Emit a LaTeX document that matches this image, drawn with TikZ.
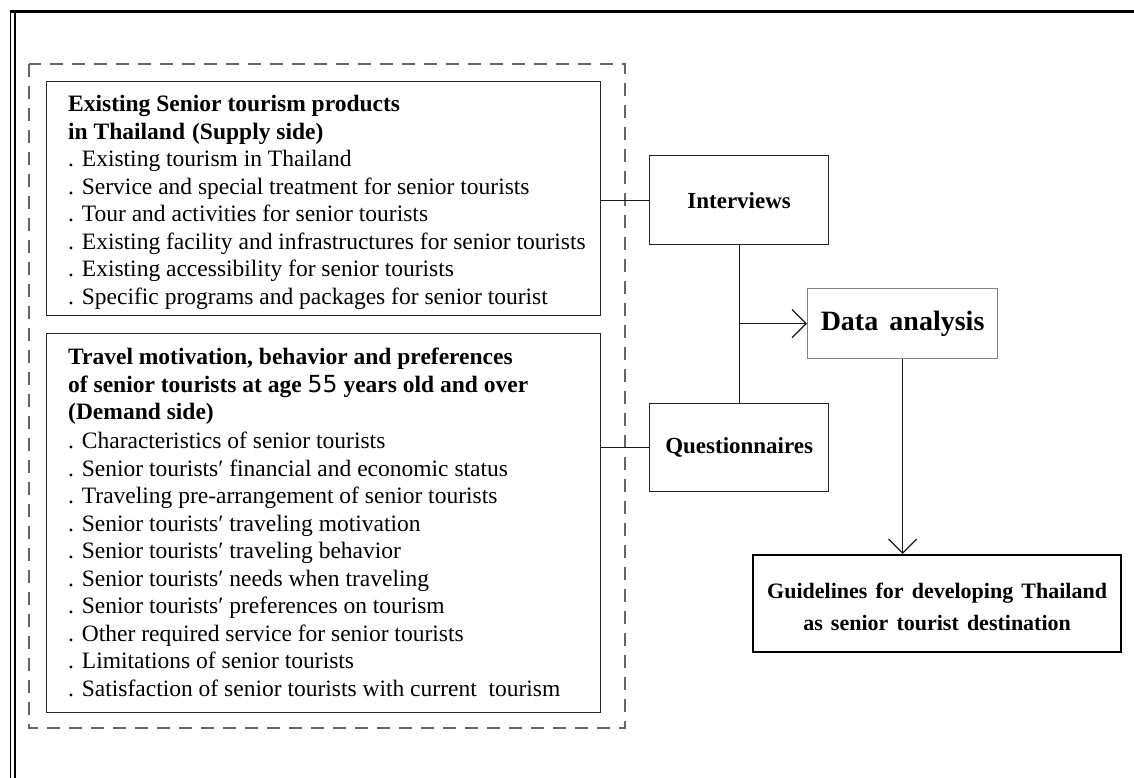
\documentclass[tikz,border=0pt]{standalone}
\usepackage{fontspec}
\setmainfont{Liberation Serif}
\newfontfamily\numfont{DejaVu Sans}
\usetikzlibrary{arrows.meta}
\tikzset{
  boxa/.style={draw=black!85, line width=1.3pt, inner sep=0pt, anchor=north west},
  boxd/.style={draw=black!50, line width=1.2pt, inner sep=0pt, anchor=north west},
  boxg/.style={draw=black, line width=2.2pt, inner sep=0pt, anchor=north west},
  txt/.style={anchor=north west, inner sep=0pt, align=left, font=\fontsize{23.5}{27.5}\selectfont},
  lbl/.style={font=\bfseries\fontsize{23}{27}\selectfont},
  conn/.style={draw=black!90, line width=1.3pt},
  arr/.style={conn, -{Straight Barb[length=14pt,width=28pt,line width=1.3pt]}},
}
\begin{document}
\begin{tikzpicture}[x=1pt,y=-1pt]
\useasboundingbox (0,0) rectangle (1134,778);
% outer frame
\draw[line width=3pt] (9.5,12) -- (1134,12);
\draw[line width=1.6pt] (10.5,12) -- (10.5,778);
\draw[line width=1.6pt] (14.8,12) -- (14.8,778);
% dashed group
\draw[draw=black!60, line width=1.3pt, dash pattern=on 13pt off 9pt] (29,64) rectangle (625,728);
% supply box
\node[boxa, minimum width=554pt, minimum height=234pt] (supply) at (46,81) {};
\node[txt] (supplytxt) at (68,95) {\textbf{Existing Senior tourism products}\\
\textbf{in Thailand\hspace{0.3em}(Supply side)}\\
. Existing tourism in Thailand\\
. Service and special treatment for senior tourists\\
. Tour and activities for senior tourists\\
. Existing facility and infrastructures for senior tourists\\
. Existing accessibility for senior tourists\\
. Specific programs and packages for senior tourist};
% demand box
\node[boxa, minimum width=554pt, minimum height=379pt] (demand) at (46,333) {};
\node[txt] (demandtxt) at (68,348) {\textbf{Travel motivation, behavior and preferences}\\
\textbf{of senior tourists at age {\numfont\mdseries 55} years old and over}\\
\textbf{(Demand side)}\\[1.5pt]
. Characteristics of senior tourists\\
. Senior tourists′ financial and economic status\\
. Traveling pre-arrangement of senior tourists\\
. Senior tourists′ traveling motivation\\
. Senior tourists′ traveling behavior\\
. Senior tourists′ needs when traveling\\
. Senior tourists′ preferences on tourism\\
. Other required service for senior tourists\\
. Limitations of senior tourists\\
. Satisfaction of senior tourists with current\ \ tourism};
% right column
\node[boxa, minimum width=179pt, minimum height=89pt] (interviews) at (649,155) {};
\node[lbl] (interviewstxt) at (interviews.center) {Interviews};
\node[boxa, minimum width=179pt, minimum height=88pt] (questionnaires) at (649,403) {};
\node[lbl] (questionnairestxt) at (questionnaires.center) {Questionnaires};
\node[boxd, minimum width=190pt, minimum height=70pt] (data) at (807,288) {};
\node[lbl, font=\bfseries\fontsize{28}{32}\selectfont] (datatxt) at (data.center) {Data\hspace{0.15em} analysis};
\node[boxg, minimum width=368pt, minimum height=97pt] (guide) at (752,554) {};
\node[lbl, align=center, font=\bfseries\fontsize{22}{32}\selectfont] (guidetxt) at ([yshift=-3pt]guide.center) {Guidelines\hspace{0.12em} for\hspace{0.12em} developing\hspace{0.12em} Thailand\\as\hspace{0.12em} senior\hspace{0.12em} tourist\hspace{0.12em} destination};
% connectors
\draw[conn] (supply.east |- interviews.west) -- (interviews.west);
\draw[conn] (demand.east |- questionnaires.west) -- (questionnaires.west);
\draw[conn] (interviews.south) -- (questionnaires.north);
\coordinate (junction) at (interviews.south |- data.west);
\draw[arr] (junction) -- (data.west);
\draw[arr] (data.south) -- (data.south |- guide.north);
\end{tikzpicture}
\end{document}
